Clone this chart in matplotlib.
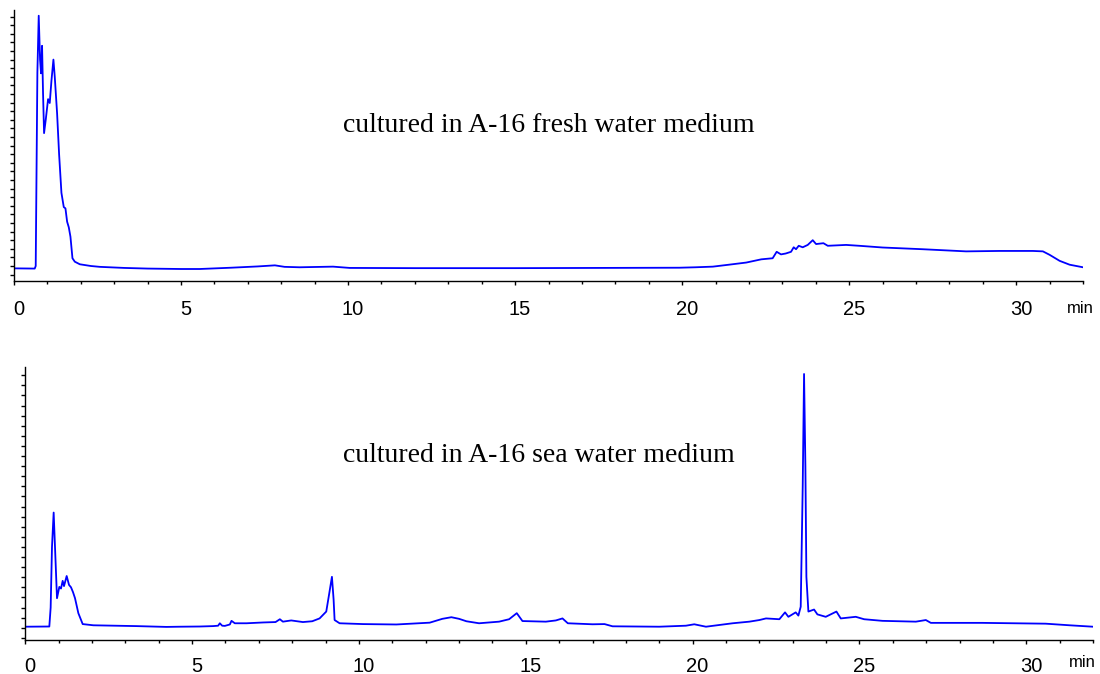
import matplotlib
matplotlib.use("Agg")
import matplotlib.pyplot as plt
from matplotlib.ticker import MultipleLocator
from matplotlib.transforms import ScaledTranslation

# retention time (min) and detector signal (arbitrary units)
fresh_t = [0, 0.62, 0.65, 0.70, 0.74, 0.78, 0.81, 0.84, 0.87, 0.90, 0.95, 1.02, 1.07,
           1.12, 1.18, 1.22, 1.29, 1.35, 1.42, 1.49, 1.54, 1.59, 1.64, 1.69, 1.75,
           1.82, 1.97, 2.3, 2.57, 3.3, 4.0, 5.0, 5.56, 6.5, 7.3, 7.81, 8.1, 8.55,
           9.55, 10.05, 12, 13.54, 15, 17.5, 19.92, 20.4, 20.92, 21.4, 21.92, 22.37,
           22.71, 22.83, 22.96, 23.1, 23.26, 23.34, 23.41, 23.49, 23.61, 23.76,
           23.91, 24.01, 24.23, 24.36, 24.91, 25.3, 26.0, 27.2, 28.5, 29.5, 30.5,
           30.8, 31.0, 31.3, 31.6, 32]
fresh_y = [-0.55, -0.6, 0.0, 45, 58.2, 48, 44.8, 51.2, 40, 30.9, 34, 38.8, 37.9,
           43, 48, 44, 35.5, 26, 17, 13.7, 13.4, 10.3, 9, 6.8, 1.8,
           1.0, 0.4, 0.0, -0.2, -0.45, -0.6, -0.7, -0.7, -0.4, -0.1, 0.15, -0.2, -0.3,
           -0.15, -0.45, -0.5, -0.5, -0.5, -0.45, -0.4, -0.3, -0.15, 0.3, 0.8, 1.55,
           1.8, 3.3, 2.7, 2.9, 3.3, 4.35, 3.9, 4.7, 4.35, 4.9,
           6.0, 5.1, 5.3, 4.7, 4.9, 4.7, 4.3, 3.9, 3.4, 3.5, 3.5,
           3.4, 2.6, 1.2, 0.3, -0.3]

sea_t = [0, 0.72, 0.76, 0.80, 0.85, 0.89, 0.95, 1.02, 1.07, 1.12, 1.16, 1.24, 1.31,
         1.37, 1.43, 1.49, 1.59, 1.72, 2.04, 3.33, 4.23, 4.63, 5.23, 5.63, 5.78,
         5.83, 5.9, 5.98, 6.13, 6.18, 6.28, 6.63, 7.13, 7.5, 7.63, 7.72, 7.97, 8.32,
         8.6, 8.82, 9.02, 9.1, 9.19, 9.24, 9.27, 9.42, 10.12, 11.12, 12.12, 12.5,
         12.77, 13.0, 13.22, 13.6, 14.2, 14.5, 14.73, 14.9, 15.6, 15.9, 16.1, 16.26,
         17.0, 17.36, 17.6, 19.0, 19.8, 20.05, 20.4, 21.2, 21.7, 22.0, 22.2, 22.6,
         22.77, 22.87, 23.09, 23.17, 23.24, 23.30, 23.34, 23.38, 23.41, 23.47,
         23.64, 23.74, 23.99, 24.31, 24.44, 24.89, 25.14, 25.69, 26.69, 26.99,
         27.14, 28.68, 30.58, 31.3, 32]
sea_y = [0.25, 0.3, 5, 20, 28.5, 20, 7.3, 10.1, 9.7, 11.6, 10.3, 12.8, 10.6,
         10, 8.8, 7.3, 3.6, 0.9, 0.6, 0.4, 0.2, 0.25, 0.3, 0.4, 0.5,
         1.1, 0.5, 0.45, 0.8, 1.7, 1.1, 1.1, 1.3, 1.4, 2.1, 1.5, 1.8, 1.4,
         1.6, 2.3, 4, 8, 12.6, 7, 1.9, 1.1, 0.9, 0.8, 1.25, 2.2,
         2.6, 2.2, 1.6, 1.1, 1.5, 2.1, 3.6, 1.65, 1.5, 1.8, 2.3, 1.1,
         0.85, 0.9, 0.35, 0.25, 0.5, 0.85, 0.25, 1.1, 1.5, 1.9, 2.3, 2.1,
         3.8, 2.7, 3.8, 3.0, 5.2, 35, 62.8, 40, 12.6, 4,
         4.5, 3.3, 2.7, 4, 2.3, 2.7, 2.1, 1.7, 1.5, 1.9,
         1.2, 1.2, 1.0, 0.6, 0.25]

x_ticks = [0, 5, 10, 15, 20, 25, 30]
titles = ["cultured in A-16 fresh water medium", "cultured in A-16 sea water medium"]

W, H = 1100, 674
fig = plt.figure(figsize=(W / 100, H / 100), dpi=100)

def px_axes(left, right, top, bottom):
    return fig.add_axes([left / W, 1 - bottom / H, (right - left) / W, (bottom - top) / H])

ax1 = px_axes(14, 1083, 10, 281)
ax2 = px_axes(25.3, 1093, 367, 640)

panels = [
    (ax1, fresh_t, fresh_y, (-3.49, 59.53), 2, titles[0], (0.3075, 0.551), (1080, 312.5), 11),
    (ax2, sea_t, sea_y, (-3.04, 64.53), 2.5, titles[1], (0.2973, 0.653), (1082, 667), 9),
]

shift = ScaledTranslation(5 / 100, 0, fig.dpi_scale_trans)

for ax, t, y, ylim, yminor, title, tpos, min_pos, pad in panels:
    ax.plot(t, y, color="#0000ff", lw=1.3)
    ax.set_xlim(0, 32)
    ax.set_ylim(*ylim)
    for s in ["top", "right"]:
        ax.spines[s].set_visible(False)
    for s in ["left", "bottom"]:
        ax.spines[s].set_linewidth(1.0)
    ax.set_xticks(x_ticks)
    ax.set_xticklabels([str(v) for v in x_ticks], fontfamily="Liberation Sans", fontsize=14.5)
    ax.xaxis.set_minor_locator(MultipleLocator(1))
    ax.yaxis.set_major_locator(MultipleLocator(10))
    ax.yaxis.set_minor_locator(MultipleLocator(yminor))
    ax.set_yticklabels([])
    ax.tick_params(axis="x", which="major", length=3, width=1, pad=pad)
    ax.tick_params(axis="x", which="minor", length=2.5, width=1)
    ax.tick_params(axis="y", which="both", length=3, width=1)
    for lab in ax.get_xticklabels():
        lab.set_transform(lab.get_transform() + shift)
    ax.text(tpos[0], tpos[1], title, transform=ax.transAxes, va="baseline",
            fontfamily="Liberation Serif", fontsize=20)
    fig.text(min_pos[0] / W, 1 - min_pos[1] / H, "min", ha="center", va="baseline",
             fontfamily="Liberation Sans", fontsize=12)

fig.savefig("out.png", dpi=100)
